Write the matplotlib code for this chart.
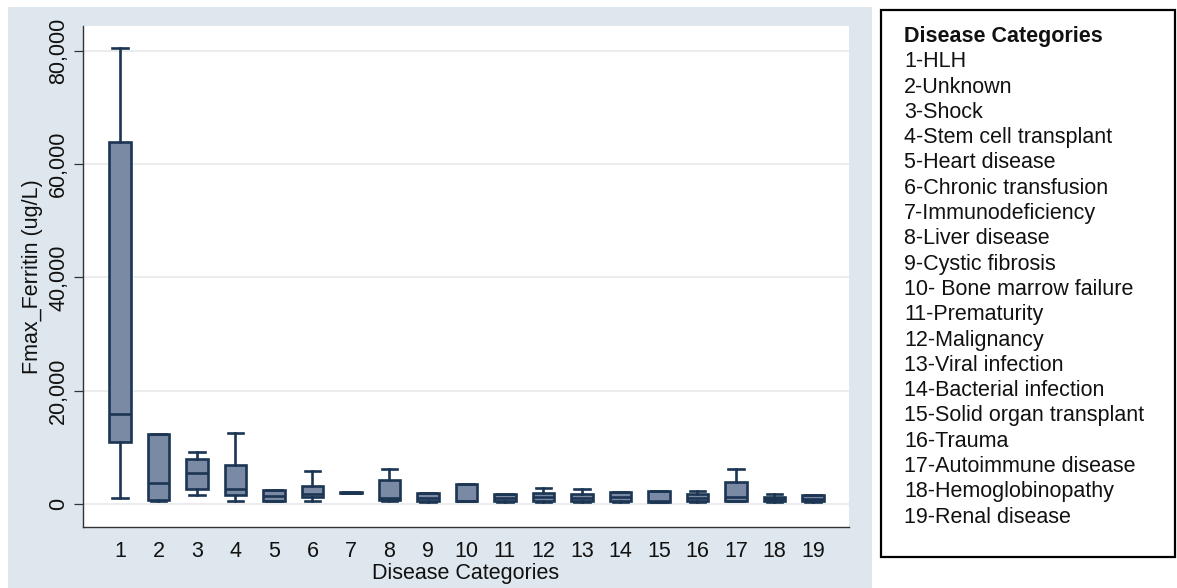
import matplotlib.pyplot as plt
from matplotlib.patches import Rectangle
from matplotlib.ticker import FuncFormatter

plt.rcParams['font.family'] = ['Liberation Sans', 'DejaVu Sans']

# --- data (ug/L) ---
categories = list(range(1, 20))
whislo = [1000, 600, 1590, 590, 530, 590, 1950, 600, 400, 530,
          400, 410, 400, 410, 300, 400, 530, 410, 400]
q1 = [10900, 700, 2700, 1590, 530, 1180, 1950, 700, 450, 530,
      450, 450, 450, 450, 350, 450, 530, 450, 450]
med = [15950, 3650, 5530, 2650, 1410, 1770, 2000, 1000, 1000, 600,
       1000, 1180, 1000, 1290, 600, 1000, 1290, 800, 900]
q3 = [63840, 12300, 7950, 6830, 2470, 3180, 2050, 4240, 1940, 3480,
      1710, 1890, 1710, 2180, 2350, 1710, 3830, 1180, 1590]
whishi = [80480, 12300, 9130, 12490, 2470, 5770, 2050, 6130, 1940, 3480,
          1710, 2880, 2600, 2180, 2350, 2350, 6180, 1770, 1590]

legend_title = "Disease Categories"
legend_labels = [
    "1-HLH", "2-Unknown", "3-Shock", "4-Stem cell transplant",
    "5-Heart disease", "6-Chronic transfusion", "7-Immunodeficiency",
    "8-Liver disease", "9-Cystic fibrosis", "10- Bone marrow failure",
    "11-Prematurity", "12-Malignancy", "13-Viral infection",
    "14-Bacterial infection", "15-Solid organ transplant", "16-Trauma",
    "17-Autoimmune disease", "18-Hemoglobinopathy", "19-Renal disease",
]
yticks = [0, 20000, 40000, 60000, 80000]

W, H = 1177, 588
edge = "#1b3553"
fill = "#7a8aa4"
panel = "#dde7ed"
fs = 15.5
lw = 1.9

fig = plt.figure(figsize=(W / 100, H / 100), dpi=100)
fig.patch.set_facecolor("white")

# graph region background (Stata style)
fig.patches.append(Rectangle((8 / W, 0), (872 - 8) / W, (588 - 7) / H,
                             transform=fig.transFigure, facecolor=panel,
                             edgecolor="none", zorder=-10))

ax = fig.add_axes([83 / W, (H - 527) / H, (849 - 83) / W, (527 - 26) / H])
ax.set_facecolor("white")

stats = []
for i in range(len(categories)):
    stats.append(dict(whislo=whislo[i], q1=q1[i], med=med[i], q3=q3[i],
                      whishi=whishi[i], fliers=[]))

ax.bxp(stats, positions=categories, widths=0.56, capwidths=0.4,
       showfliers=False, patch_artist=True,
       boxprops=dict(facecolor=fill, edgecolor=edge, linewidth=lw),
       medianprops=dict(color=edge, linewidth=lw),
       whiskerprops=dict(color=edge, linewidth=lw),
       capprops=dict(color=edge, linewidth=lw))

ax.set_xlim(0.04, 19.94)
ax.set_ylim(-4060, 84400)
ax.set_xticks(categories)
ax.set_xticklabels([str(c) for c in categories])
ax.set_yticks(yticks)
ax.yaxis.set_major_formatter(FuncFormatter(lambda v, p: f"{int(v):,}"))
ax.yaxis.grid(True, color="#e6e9eb", linewidth=1.2)
ax.set_axisbelow(True)

for s in ["top", "right"]:
    ax.spines[s].set_visible(False)
for s in ["left", "bottom"]:
    ax.spines[s].set_color("#333333")
    ax.spines[s].set_linewidth(1.0)

ax.tick_params(axis="x", length=0, pad=10, labelsize=fs, colors="#111111")
ax.tick_params(axis="y", length=6.5, width=0.9, pad=3.5, labelsize=fs,
               colors="#333333", labelcolor="#111111")
for lab in ax.get_yticklabels():
    lab.set_rotation(90)
    lab.set_va("center")

ax.set_xlabel("Disease Categories", fontsize=fs, color="#111111", labelpad=1)
ax.set_ylabel("Fmax_Ferritin (ug/L)", fontsize=fs, color="#111111")
ax.yaxis.set_label_coords((43 - 83) / (849 - 83), 0.5)

# legend note box
fig.patches.append(Rectangle((881 / W, (H - 557) / H), (1175 - 881) / W,
                             (557 - 10) / H, transform=fig.transFigure,
                             facecolor="white", edgecolor="black",
                             linewidth=1.6, zorder=1))
fig.text(904 / W, (H - 42) / H, legend_title, fontsize=fs,
         fontweight="bold", va="baseline", ha="left", color="#111111")
for i, lab in enumerate(legend_labels):
    fig.text(904 / W, (H - 42 - 25.3 * (i + 1)) / H, lab, fontsize=fs,
             va="baseline", ha="left", color="#111111")

fig.savefig("out.png", dpi=100)
